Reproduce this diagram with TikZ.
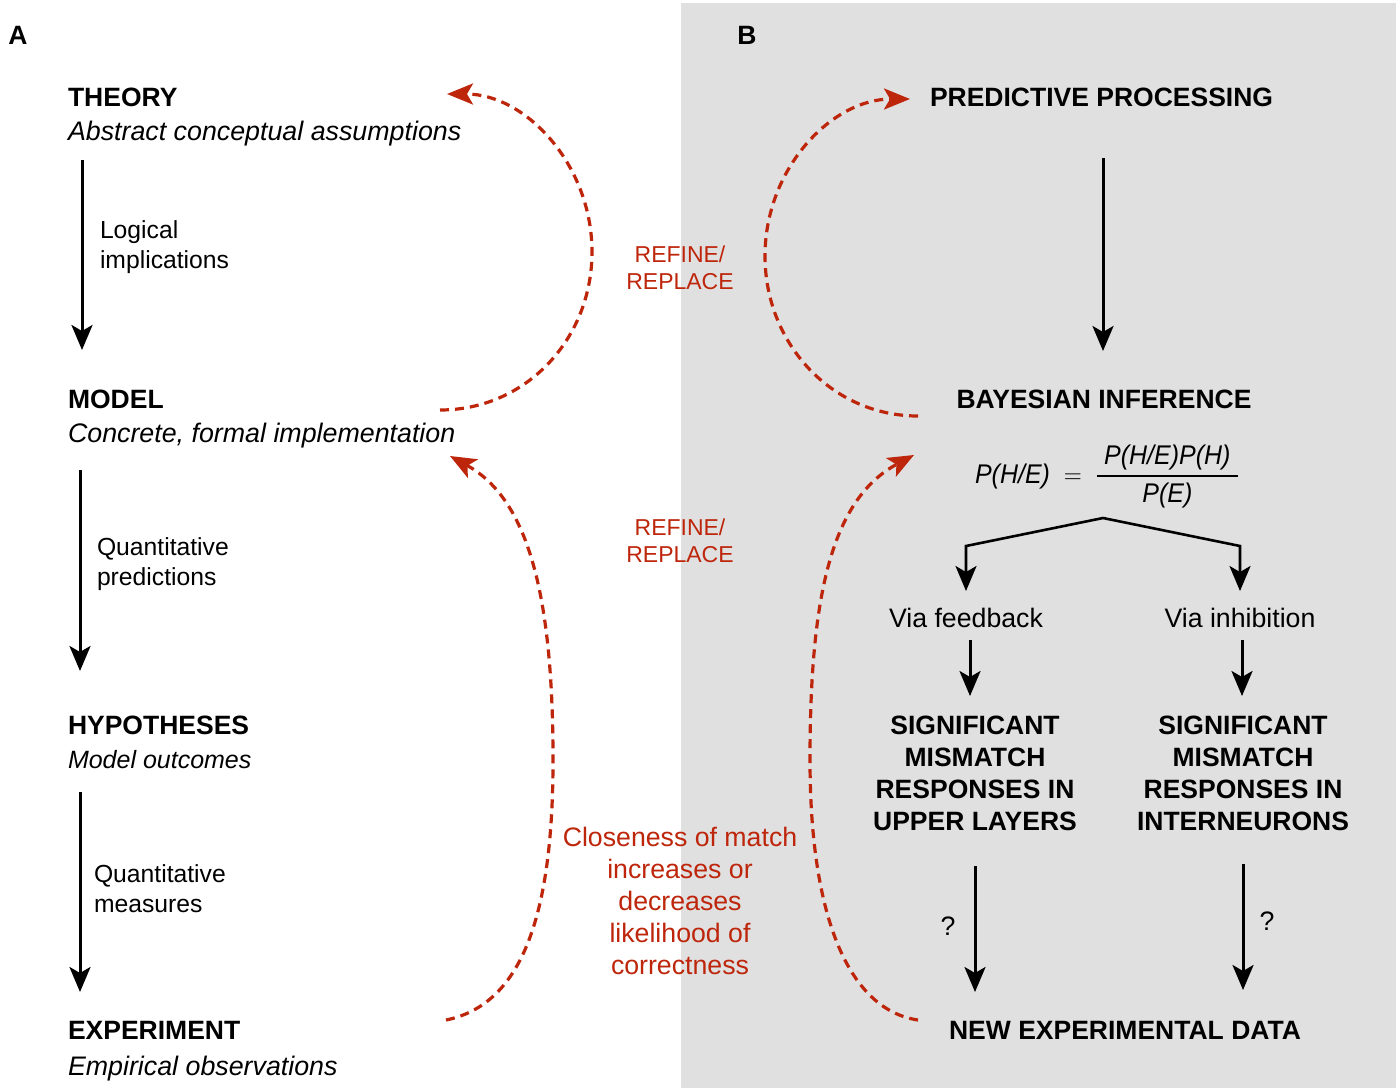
\RequirePackage{fix-cm}
\documentclass[tikz,border=0pt]{standalone}
\usepackage{fontspec}
\usepackage{graphicx}
\setmainfont{Liberation Sans}
\usetikzlibrary{arrows.meta}
\definecolor{redc}{RGB}{190,38,12}
\definecolor{greyc}{RGB}{224,224,224}
\begin{document}
\begin{tikzpicture}[x=1pt,y=-1pt,
  every node/.style={inner sep=0pt, outer sep=0pt},
  head/.style={font=\fontsize{26.5}{32}\selectfont\bfseries},
  sub/.style={font=\fontsize{26.8}{32}\selectfont\itshape},
  lab/.style={font=\fontsize{24.7}{29.5}\selectfont, align=left},
  rlab/.style={font=\fontsize{26.7}{32}\selectfont},
  redlab/.style={font=\fontsize{23}{27}\selectfont, text=redc, align=center},
  redbig/.style={font=\fontsize{26.7}{32.2}\selectfont, text=redc, align=center},
  blk/.style={-{Stealth[length=25pt,width=21pt,inset=6pt]}, line width=3pt},
  dsh/.style={redc, line width=3.2pt, dash pattern=on 9pt off 6pt,
    -{Stealth[length=26pt,width=21pt,inset=6pt]}},
  ]
\useasboundingbox (0,0) rectangle (1396,1088);
\fill[white] (0,0) rectangle (1396,1088);
\fill[greyc] (681,3) rectangle (1396,1088);

% panel letters
\node[head] (la) at (18,35) {A};
\node[head] (lb) at (747,35) {B};

% ---- panel A ----
\node[head, anchor=base west] (thr) at (68,106) {THEORY};
\node[sub, anchor=base west] (thrsub) at (68,140) {Abstract conceptual assumptions};
\node[head, anchor=base west] (mdl) at (68,408) {MODEL};
\node[sub, anchor=base west] (mdlsub) at (68,442) {Concrete, formal implementation};
\node[head, anchor=base west] (hyp) at (68,734) {HYPOTHESES};
\node[sub, anchor=base west, font=\fontsize{25}{30}\selectfont\itshape] (hypsub) at (68,768) {Model outcomes};
\node[head, anchor=base west] (exper) at (68,1039) {EXPERIMENT};
\node[sub, anchor=base west] (expsub) at (68,1075) {Empirical observations};

\coordinate (a1s) at (82,160); \coordinate (a1e) at (82,350);
\coordinate (a2s) at (80,470); \coordinate (a2e) at (80,671);
\coordinate (a3s) at (80,792); \coordinate (a3e) at (80,992);
\draw[blk] (a1s) -- (a1e);
\draw[blk] (a2s) -- (a2e);
\draw[blk] (a3s) -- (a3e);

\node[lab, anchor=north west] (l1) at (100,221) {Logical\\implications};
\node[lab, anchor=north west] (l2) at (97,538) {Quantitative\\predictions};
\node[lab, anchor=north west] (l3) at (94,865) {Quantitative\\measures};

% ---- middle labels ----
\node[redlab] (ref1) at (680,268) {REFINE/\\REPLACE};
\node[redlab] (ref2) at (680,541) {REFINE/\\REPLACE};
\node[redbig] (close) at (680,901) {Closeness of match\\increases or\\decreases\\likelihood of\\correctness};

% ---- panel B ----
\node[head, anchor=base west] (pp) at (930,106) {PREDICTIVE PROCESSING};
\node[head, anchor=base] (bi) at (1104,408) {BAYESIAN INFERENCE};
\node[anchor=base] (formula) at (1107,483) {\scalebox{0.925}[1]{\fontsize{27}{32}\selectfont
  $\displaystyle \textit{P(H/E)}\;=\;{\hspace{8pt}\textit{P(H/E)P(H)}\hspace{8pt}\above 1.8pt\textit{P(E)}}$}};

\coordinate (b1s) at (1103,158); \coordinate (b1e) at (1103,351);
\draw[blk] (b1s) -- (b1e);

\coordinate (brtop) at (1103,518);
\coordinate (brl) at (966,546); \coordinate (brr) at (1240,546);
\coordinate (brlt) at (966,591); \coordinate (brrt) at (1240,591);
\draw[blk, line width=2.6pt, line join=miter] (brtop) -- (brl) -- (brlt);
\draw[blk, line width=2.6pt, line join=miter] (brtop) -- (brr) -- (brrt);

\node[rlab, anchor=base] (vf) at (966,627) {Via feedback};
\node[rlab, anchor=base] (vi) at (1240,627) {Via inhibition};

\coordinate (c1s) at (970,640); \coordinate (c1e) at (970,696);
\coordinate (c2s) at (1242,640); \coordinate (c2e) at (1242,696);
\draw[blk] (c1s) -- (c1e);
\draw[blk] (c2s) -- (c2e);

\node[head, align=center, anchor=north] (sm1) at (975,716) {SIGNIFICANT\\MISMATCH\\RESPONSES IN\\UPPER LAYERS};
\node[head, align=center, anchor=north] (sm2) at (1243,716) {SIGNIFICANT\\MISMATCH\\RESPONSES IN\\INTERNEURONS};

\coordinate (d1s) at (975,866); \coordinate (d1e) at (975,992);
\coordinate (d2s) at (1243,864); \coordinate (d2e) at (1243,990);
\draw[blk] (d1s) -- (d1e);
\draw[blk] (d2s) -- (d2e);
\node[rlab] (q1) at (948,926) {?};
\node[rlab] (q2) at (1267,921) {?};

\node[head, anchor=base] (ned) at (1125,1039) {NEW EXPERIMENTAL DATA};

% ---- red dashed curves ----
\coordinate (r1s) at (440,410); \coordinate (r1e) at (447,94);
\draw[dsh] (r1s) .. controls (526,410) and (592,339) .. (592,252)
  .. controls (592,165) and (526,94) .. (r1e);
\coordinate (r2s) at (918,416); \coordinate (r2e) at (910,99);
\draw[dsh] (r2s) .. controls (832,416) and (765,344) .. (765,256)
  .. controls (765,168) and (832,99) .. (r2e);
\coordinate (r3s) at (446,1020); \coordinate (r3e) at (450,456);
\draw[dsh] (r3s) .. controls (520,1005) and (553,920) .. (553,760)
  .. controls (553,600) and (530,500) .. (r3e);
\coordinate (r4s) at (918,1020); \coordinate (r4e) at (914,455);
\draw[dsh] (r4s) .. controls (850,1010) and (810,920) .. (810,760)
  .. controls (810,600) and (830,500) .. (r4e);
\end{tikzpicture}
\end{document}
